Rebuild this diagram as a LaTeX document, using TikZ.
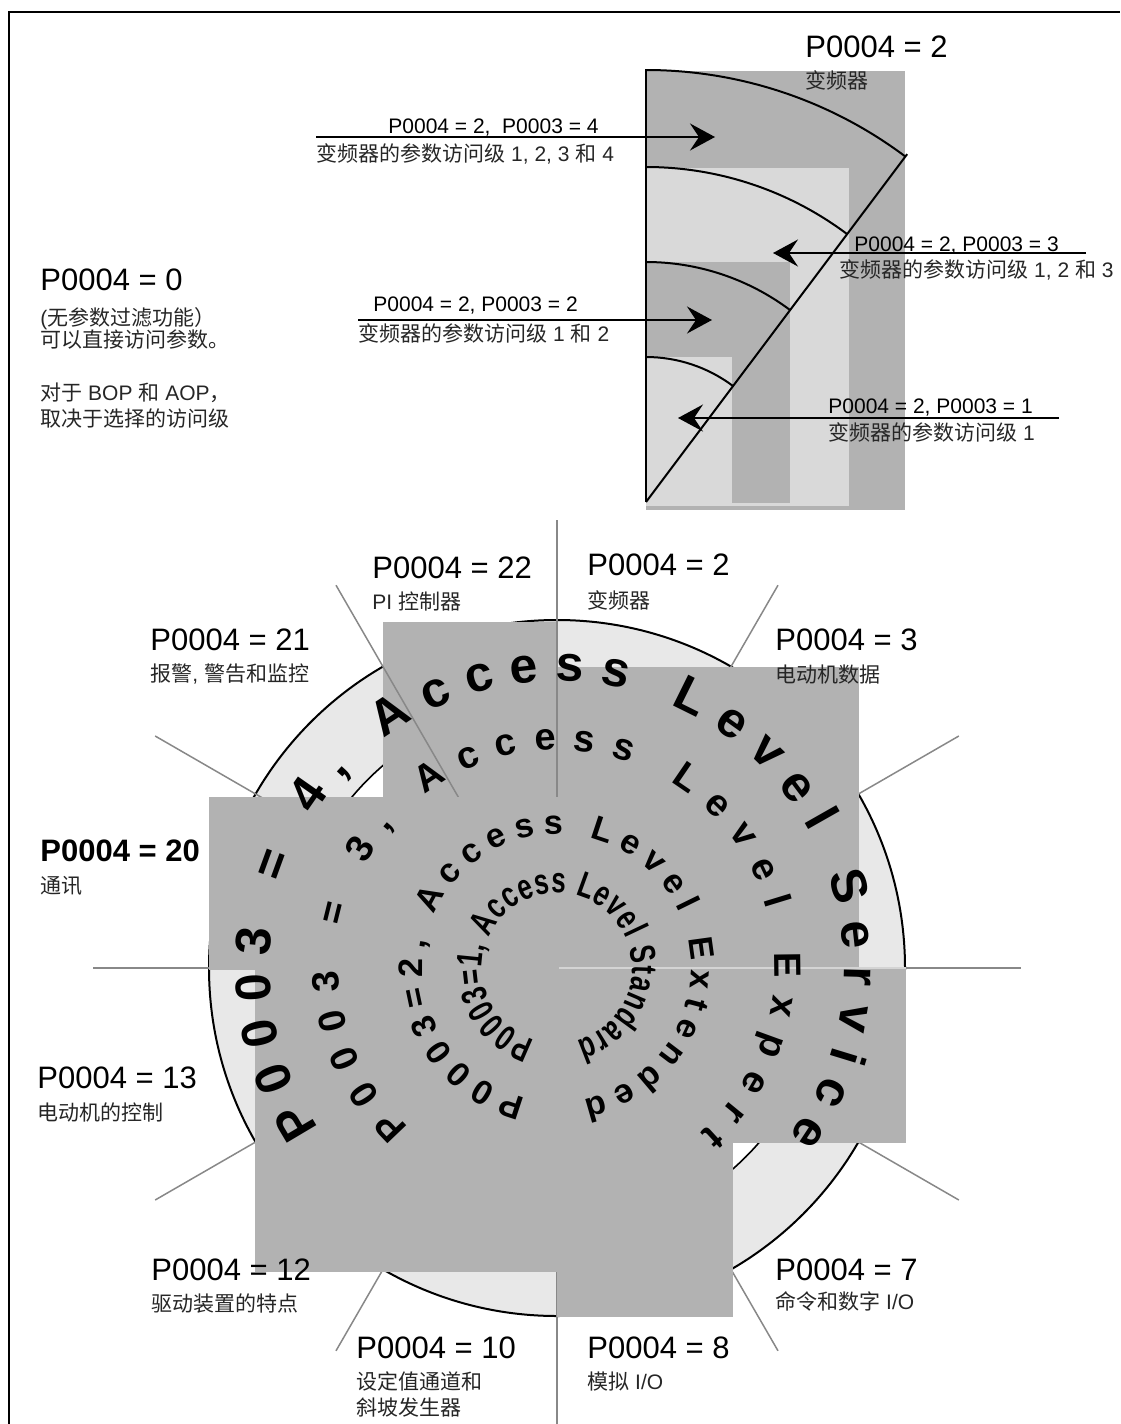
\documentclass[tikz,border=0pt]{standalone}
\usepackage{fontspec}
\setmainfont{Liberation Sans}
\newfontfamily\cjk{Noto Sans CJK SC}
\newfontfamily\squeezefont[FakeStretch=0.72]{Liberation Sans}
\usepackage{tikz}
\usetikzlibrary{
    positioning,
    arrows.meta,
    calc,
    decorations.text
}
\definecolor{boxDark}{RGB}{178, 178, 178}
\definecolor{boxLight}{RGB}{217, 217, 217}
\definecolor{ringGray}{RGB}{232, 232, 232}
\definecolor{spokeGray}{RGB}{136, 136, 136}
\definecolor{seamGray}{RGB}{212, 212, 212}

\newcommand{\arcfontA}{\fontsize{25pt}{25pt}\selectfont\bfseries}
\newcommand{\arcfontB}{\fontsize{19pt}{19pt}\selectfont\bfseries}
\newcommand{\arcfontC}{\fontsize{17pt}{17pt}\selectfont\bfseries}
\newcommand{\arcfontD}{\squeezefont\fontsize{18pt}{18pt}\selectfont\bfseries}

\tikzset{
    bigtag/.style={anchor=base west, inner sep=0pt, font=\fontsize{15.5pt}{18pt}\selectfont},
    smalltag/.style={anchor=base west, inner sep=0pt, text=black!85, font=\fontsize{10.5pt}{12pt}\selectfont},
    spoke/.style={spokeGray, line width=0.75pt},
    levelarc/.style={line width=1pt},
    accarrow/.style={->, line width=1pt},
    arctext/.style={decorate, decoration={text along path, text align={fit to path}, text={#1}}}
}

\begin{document}
\begin{tikzpicture}[x=0.5pt, y=0.5pt, >={Stealth[length=12.5pt, width=13.5pt, inset=4.5pt]}]
            \useasboundingbox (0,0) rectangle (1120,-1424);
            % 枠
            \draw[line width=1.2pt] (9,-1424) -- (9,-12) -- (1120,-12);

            % 座標設定
            \coordinate (Q) at (646,-502);
            \coordinate (C) at (557,-968);

            % 上の図: 帯
            \fill[boxDark] (646,-71) rectangle (905,-510);
            \fill[boxLight] (646,-168) rectangle (849,-506);
            \fill[boxDark] (646,-262) rectangle (790,-503);
            \fill[boxLight] (646,-357) rectangle (732,-503);

            % 円弧と斜線
            \foreach \r in {432, 335, 240, 145} {
                \draw[levelarc] ($(Q)+(90:\r)$) arc[start angle=90, end angle=53.1, radius=\r];
            }
            \draw[line width=1.2pt] (646,-69) -- (Q);
            \draw[levelarc] (Q) -- ++(53.1:435);

            % 矢印
            \coordinate (a4s) at (316,-137);
            \coordinate (a4e) at (715,-137);
            \coordinate (a3s) at (1086,-253);
            \coordinate (a3e) at (773,-253);
            \coordinate (a2s) at (358,-320);
            \coordinate (a2e) at (712,-320);
            \coordinate (a1s) at (1059,-418);
            \coordinate (a1e) at (678,-418);
            \draw[accarrow] (a4s) -- (a4e);
            \draw[accarrow] (a3s) -- (a3e);
            \draw[accarrow] (a2s) -- (a2e);
            \draw[accarrow] (a1s) -- (a1e);

            \node[smalltag, text=black] (acc4) at (388,-133) {P0004 = 2,\ \ P0003 = 4};
            \node[smalltag] (acc4b) at (316,-161) {{\cjk 变频器的参数访问级} 1, 2, 3 {\cjk 和} 4};
            \node[smalltag, text=black] (acc3) at (854,-251) {P0004 = 2, P0003 = 3};
            \node[smalltag] (acc3b) at (839,-277) {{\cjk 变频器的参数访问级} 1, 2 {\cjk 和} 3};
            \node[smalltag, text=black] (acc2) at (373,-311) {P0004 = 2, P0003 = 2};
            \node[smalltag] (acc2b) at (358,-341) {{\cjk 变频器的参数访问级} 1 {\cjk 和} 2};
            \node[smalltag, text=black] (acc1) at (828,-413) {P0004 = 2, P0003 = 1};
            \node[smalltag] (acc1b) at (828,-440) {{\cjk 变频器的参数访问级} 1};

            \node[bigtag] (top2) at (805,-57) {P0004 = 2};
            \node[smalltag] (top2b) at (805,-88) {\cjk 变频器};

            % 左の説明
            \node[bigtag] (lab0) at (40,-290) {P0004 = 0};
            \node[smalltag] (sub0a) at (40,-325) {({\cjk 无参数过滤功能）}};
            \node[smalltag] (sub0b) at (40,-347) {\cjk 可以直接访问参数。};
            \node[smalltag] (sub0c) at (40,-400) {{\cjk 对于} BOP {\cjk 和} AOP{\cjk ，}};
            \node[smalltag] (sub0d) at (40,-426) {\cjk 取决于选择的访问级};

            % 下の図: 円
            \filldraw[fill=ringGray, line width=1pt] (C) circle[radius=348];
            \filldraw[fill=white, line width=0.8pt] (C) circle[radius=267];
            \fill[boxDark] (383,-622) rectangle (557,-968);

            % 放射線
            \foreach \a/\r in {0/464, 30/464, 60/442, 90/448, 120/442, 150/464,
                    180/464, 210/464, 240/442, 270/462, 300/442, 330/464} {
                \draw[spoke] (C) -- ++(\a:\r);
            }

            % 灰色の領域
            \fill[boxDark] (209,-797) rectangle (859,-970);
            \fill[boxDark] (255,-968) rectangle (557,-1272);
            \fill[boxDark] (557.8,-667) rectangle (859,-968);
            \fill[boxDark] (557,-968) rectangle (906,-1143);
            \fill[boxDark] (557,-968) rectangle (733,-1317);
            \draw[seamGray, line width=0.6pt] (559,-968) -- (906,-968);

            % 円弧に沿った文字
            \path[arctext={|\arcfontA|P0003 = 4, Access Level Service}]
                ($(C)+(214:287)$) arc[start angle=214, end angle=-36, radius=287];
            \path[arctext={|\arcfontB|P0003 = 3, Access Level Expert}]
                ($(C)+(227:218)$) arc[start angle=227, end angle=-49, radius=218];
            \path[arctext={|\arcfontC|P0003=2, Access Level Extended}]
                ($(C)+(256.5:134)$) arc[start angle=256.5, end angle=-78.5, radius=134];
            \path[arctext={|\arcfontD|P0003=1, Access Level Standard}]
                ($(C)+(253:75)$) arc[start angle=253, end angle=-75, radius=75];

            % ラベル
            \node[bigtag] (lab22) at (372,-578) {P0004 = 22};
            \node[smalltag] (sub22) at (372,-609) {PI {\cjk 控制器}};
            \node[bigtag] (lab2) at (587,-575) {P0004 = 2};
            \node[smalltag] (sub2) at (587,-608) {\cjk 变频器};
            \node[bigtag] (lab3) at (775,-650) {P0004 = 3};
            \node[smalltag] (sub3) at (775,-682) {\cjk 电动机数据};
            \node[bigtag] (lab21) at (150,-650) {P0004 = 21};
            \node[smalltag] (sub21) at (150,-681) {{\cjk 报警}, {\cjk 警告和监控}};
            \node[bigtag, font=\fontsize{15.5pt}{18pt}\selectfont\bfseries] (lab20) at (40,-861) {P0004 = 20};
            \node[smalltag] (sub20) at (40,-893) {\cjk 通讯};
            \node[bigtag] (lab13) at (37,-1088) {P0004 = 13};
            \node[smalltag] (sub13) at (37,-1120) {\cjk 电动机的控制};
            \node[bigtag] (lab12) at (151,-1280) {P0004 = 12};
            \node[smalltag] (sub12) at (151,-1311) {\cjk 驱动装置的特点};
            \node[bigtag] (lab10) at (356,-1358) {P0004 = 10};
            \node[smalltag] (sub10a) at (356,-1389) {\cjk 设定值通道和};
            \node[smalltag] (sub10b) at (356,-1415) {\cjk 斜坡发生器};
            \node[bigtag] (lab8) at (587,-1358) {P0004 = 8};
            \node[smalltag] (sub8) at (587,-1389) {{\cjk 模拟} I/O};
            \node[bigtag] (lab7) at (775,-1280) {P0004 = 7};
            \node[smalltag] (sub7) at (775,-1309) {{\cjk 命令和数字} I/O};
        \end{tikzpicture}
\end{document}
